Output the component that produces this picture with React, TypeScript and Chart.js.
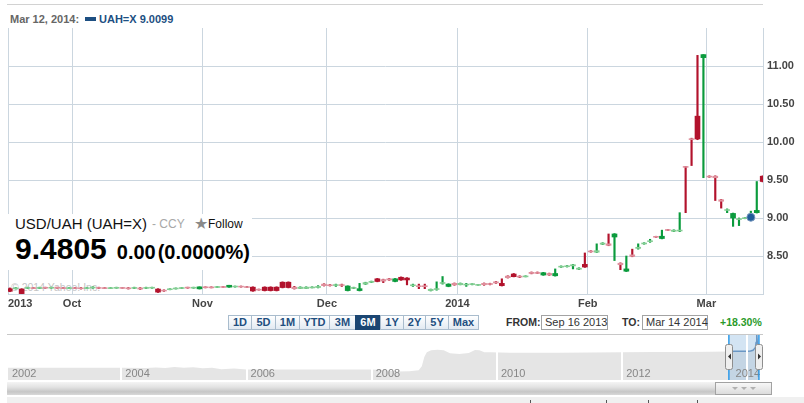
import React, { useEffect, useRef } from 'react';
import { Chart, registerables } from 'chart.js';

Chart.register(...registerables);

const FONT = '"Liberation Sans", Arial, Helvetica, sans-serif';

// ---------- main series: one candle per trading session, Sep 16 2013 - Mar 14 2014
const sessionsPerMonth = [11, 22, 21, 22, 22, 20, 10];
const monthTickLabels = ['2013', 'Oct', 'Nov', 'Dec', '2014', 'Feb', 'Mar'];

const opens = [
  8.07, 8.07, 8.065, 8.075, 8.08, 8.075, 8.085, 8.08, 8.085, 8.08,
  8.075, 8.08, 8.08, 8.075, 8.08, 8.085, 8.08, 8.075, 8.078, 8.082,
  8.08, 8.075, 8.08, 8.075, 8.078, 8.065, 8.05, 8.06, 8.07, 8.075,
  8.088, 8.08, 8.068, 8.092, 8.09, 8.088, 8.095, 8.09, 8.095, 8.1,
  8.095, 8.09, 8.06, 8.09, 8.09, 8.09, 8.155, 8.155, 8.09, 8.072,
  8.072, 8.082, 8.085, 8.13, 8.12, 8.115, 8.12, 8.045, 8.075, 8.045,
  8.13, 8.155, 8.2, 8.19, 8.2, 8.165, 8.22, 8.21, 8.11, 8.105,
  8.105, 8.045, 8.06, 8.14, 8.1, 8.14, 8.122, 8.12, 8.128, 8.118,
  8.14, 8.138, 8.16, 8.14, 8.235, 8.263, 8.235, 8.228, 8.285, 8.28,
  8.25, 8.27, 8.24, 8.355, 8.36, 8.37, 8.325, 8.39, 8.565, 8.55,
  8.655, 8.66, 8.75, 8.405, 8.3, 8.515, 8.6, 8.66, 8.69, 8.755,
  8.73, 8.845, 8.825, 8.83, 9.675, 10.04, 10.34, 11.11, 9.55, 9.55,
  9.24, 9.1, 9.0, 8.98, 8.995, 9.0, 9.07, 9.55,
];
const highs = [
  8.08, 8.085, 8.07, 8.09, 8.085, 8.09, 8.09, 8.09, 8.09, 8.085,
  8.085, 8.085, 8.085, 8.085, 8.095, 8.09, 8.085, 8.085, 8.09, 8.085,
  8.085, 8.09, 8.085, 8.09, 8.09, 8.07, 8.055, 8.07, 8.08, 8.085,
  8.09, 8.09, 8.095, 8.095, 8.095, 8.1, 8.1, 8.115, 8.105, 8.105,
  8.1, 8.095, 8.065, 8.095, 8.095, 8.095, 8.16, 8.16, 8.1, 8.095,
  8.095, 8.095, 8.11, 8.135, 8.125, 8.13, 8.13, 8.108, 8.09, 8.14,
  8.155, 8.17, 8.205, 8.195, 8.205, 8.205, 8.225, 8.215, 8.13, 8.13,
  8.13, 8.065, 8.16, 8.23, 8.135, 8.145, 8.145, 8.14, 8.135, 8.125,
  8.145, 8.142, 8.165, 8.2, 8.24, 8.27, 8.24, 8.24, 8.29, 8.29,
  8.285, 8.275, 8.33, 8.37, 8.375, 8.39, 8.345, 8.54, 8.57, 8.66,
  8.675, 8.79, 8.795, 8.41, 8.5, 8.59, 8.66, 8.675, 8.72, 8.76,
  8.84, 8.85, 8.845, 9.07, 9.68, 10.05, 11.14, 11.15, 9.555, 9.555,
  9.245, 9.12, 9.065, 9.0, 9.005, 9.09, 9.48, 9.555,
];
const lows = [
  8.03, 8.065, 8.0, 8.07, 8.07, 8.07, 8.075, 8.075, 8.075, 8.07,
  8.07, 8.07, 8.065, 8.07, 8.075, 8.07, 8.07, 8.07, 8.075, 8.075,
  8.065, 8.07, 8.06, 8.07, 8.075, 8.02, 8.035, 8.055, 8.065, 8.07,
  8.075, 8.075, 8.065, 8.08, 8.08, 8.085, 8.088, 8.088, 8.09, 8.09,
  8.085, 8.035, 8.05, 8.04, 8.04, 8.04, 8.08, 8.08, 8.065, 8.07,
  8.07, 8.08, 8.08, 8.105, 8.105, 8.1, 8.1, 8.04, 8.07, 8.04,
  8.125, 8.15, 8.16, 8.15, 8.18, 8.16, 8.18, 8.12, 8.1, 8.07,
  8.07, 8.04, 8.05, 8.13, 8.095, 8.115, 8.12, 8.1, 8.12, 8.115,
  8.115, 8.12, 8.14, 8.105, 8.21, 8.225, 8.215, 8.225, 8.265, 8.27,
  8.245, 8.245, 8.235, 8.35, 8.355, 8.33, 8.32, 8.35, 8.55, 8.545,
  8.65, 8.635, 8.44, 8.32, 8.295, 8.49, 8.59, 8.655, 8.68, 8.745,
  8.725, 8.835, 8.82, 8.82, 9.07, 9.69, 10.03, 9.53, 9.535, 9.23,
  9.13, 9.07, 8.89, 8.9, 8.99, 8.99, 9.065, 9.475,
];
const closes = [
  8.035, 8.08, 8.005, 8.085, 8.075, 8.085, 8.08, 8.085, 8.08, 8.075,
  8.08, 8.075, 8.07, 8.08, 8.09, 8.075, 8.075, 8.08, 8.085, 8.078,
  8.07, 8.085, 8.065, 8.085, 8.088, 8.025, 8.04, 8.065, 8.075, 8.082,
  8.08, 8.086, 8.094, 8.085, 8.084, 8.096, 8.09, 8.115, 8.102, 8.095,
  8.088, 8.04, 8.055, 8.045, 8.045, 8.045, 8.085, 8.085, 8.07, 8.09,
  8.09, 8.09, 8.1, 8.11, 8.11, 8.12, 8.115, 8.105, 8.085, 8.07,
  8.15, 8.165, 8.165, 8.17, 8.185, 8.2, 8.185, 8.185, 8.12, 8.1,
  8.1, 8.062, 8.07, 8.15, 8.13, 8.12, 8.14, 8.128, 8.132, 8.122,
  8.122, 8.125, 8.145, 8.11, 8.215, 8.228, 8.222, 8.235, 8.27, 8.275,
  8.28, 8.25, 8.27, 8.365, 8.37, 8.385, 8.34, 8.355, 8.555, 8.57,
  8.67, 8.64, 8.79, 8.385, 8.33, 8.495, 8.615, 8.67, 8.7, 8.75,
  8.76, 8.84, 8.84, 8.84, 9.67, 10.035, 10.04, 11.15, 9.54, 9.53,
  9.22, 9.11, 9.06, 8.99, 9.0, 9.0099, 9.1, 9.4805,
];

const markerSession = 125; // Mar 12, 2014
const markerValue = 9.0099;

const yMin = 8;
const yMax = 11.5;
const yStep = 0.5;

// ---------- navigator (whole history)
const navYears = [
  2002.19, 2002.6, 2003.0, 2003.5, 2004.0, 2004.4, 2004.55, 2004.7, 2004.85, 2005.0,
  2005.15, 2005.3, 2005.45, 2005.6, 2005.8, 2006.0, 2006.5, 2007.0, 2007.5, 2008.0,
  2008.2, 2008.4, 2008.6, 2008.75, 2008.8, 2008.84, 2008.88, 2008.95, 2009.05, 2009.15,
  2009.25, 2009.4, 2009.55, 2009.65, 2009.72, 2009.8, 2009.9, 2010.2, 2010.6, 2011.0,
  2011.5, 2012.0, 2012.5, 2013.0, 2013.4, 2013.705, 2013.8, 2013.9, 2014.0, 2014.05,
  2014.09, 2014.11, 2014.13, 2014.14, 2014.15, 2014.16, 2014.175, 2014.19,
];
const navRates = [
  5.33, 5.33, 5.33, 5.33, 5.32, 5.31, 5.4, 5.3, 5.45, 5.32,
  5.42, 5.25, 5.35, 5.1, 5.2, 5.05, 5.05, 5.05, 5.05, 5.05,
  4.95, 4.7, 4.75, 4.9, 5.6, 7.2, 8.0, 8.35, 8.45, 8.35,
  7.85, 7.7, 7.9, 8.4, 8.35, 8.0, 8.0, 7.95, 7.92, 7.95,
  7.98, 8.0, 8.05, 8.08, 8.12, 8.15, 8.17, 8.2, 8.2, 8.25,
  8.35, 8.6, 8.85, 9.7, 11.1, 9.55, 9.05, 9.48,
];
const navBandYears = [2002, 2004, 2006, 2008, 2010, 2012, 2014];
const selectionFrom = 2013.705;
const selectionTo = 2014.185;

const rangeButtons = ['1D', '5D', '1M', 'YTD', '3M', '6M', '1Y', '2Y', '5Y', 'Max'];
const activeRange = '6M';

const GRID = '#cbd6df';
const RED = '#b2122c';
const GREEN = '#0b9b3d';
const PALE_RED = '#df8f9c';
const PALE_GREEN = '#84ce93';

export default function App() {
  const mainRef = useRef<HTMLCanvasElement>(null);
  const navRef = useRef<HTMLCanvasElement>(null);

  useEffect(() => {
    const idx = opens.map((_, i) => i);
    const up = (i: number) => closes[i] >= opens[i];
    const pale = (i: number) => Math.abs(closes[i] - opens[i]) < 0.0245;
    const bodyColors = idx.map((i) => (up(i) ? (pale(i) ? PALE_GREEN : GREEN) : pale(i) ? PALE_RED : RED));
    const wickColors = idx.map((i) => (up(i) ? GREEN : RED));
    const minBody = 0.012;
    const bodies = idx.map((i) => {
      let lo = Math.min(opens[i], closes[i]);
      let hi = Math.max(opens[i], closes[i]);
      if (hi - lo < minBody) {
        const m = (hi + lo) / 2;
        lo = m - minBody / 2;
        hi = m + minBody / 2;
      }
      return { x: i, y: [lo, hi] };
    });
    const wicks = idx.map((i) => ({ x: i, y: [lows[i], highs[i]] }));

    const xMin = -0.3;
    const xMax = opens.length - 1 + 0.05;
    const boundaries: number[] = [];
    let cum = 0;
    for (let m = 0; m < sessionsPerMonth.length - 1; m++) {
      cum += sessionsPerMonth[m];
      boundaries.push(cum - 0.5);
    }
    const xTickValues = [xMin, ...boundaries, xMax];
    const xTickText = [...monthTickLabels, ''];

    const main = new Chart(mainRef.current as HTMLCanvasElement, {
      type: 'bar',
      data: {
        datasets: [
          {
            type: 'line',
            data: [{ x: markerSession, y: markerValue }],
            showLine: false,
            pointRadius: 4,
            pointBackgroundColor: '#1f5c99',
            pointBorderColor: '#7897bd',
            pointBorderWidth: 1,
            clip: 0,
          } as any,
          {
            type: 'bar',
            data: bodies,
            backgroundColor: bodyColors,
            barThickness: 5,
            grouped: false,
            borderWidth: 0,
            clip: 0,
          } as any,
          {
            type: 'bar',
            data: wicks,
            backgroundColor: wickColors,
            barThickness: 1.5,
            grouped: false,
            borderWidth: 0,
            clip: 0,
          } as any,
        ],
      },
      options: {
        responsive: false,
        animation: false,
        devicePixelRatio: 1,
        layout: { padding: { left: 8, top: 28, right: 0, bottom: 0 } },
        plugins: { legend: { display: false }, tooltip: { enabled: false } },
        scales: {
          x: {
            type: 'linear',
            min: xMin,
            max: xMax,
            offset: false,
            grid: { offset: false, color: GRID, drawTicks: false, lineWidth: 1 },
            border: { color: GRID },
            afterBuildTicks: (s: any) => {
              s.ticks = xTickValues.map((v) => ({ value: v }));
            },
            afterFit: (s: any) => {
              s.height = 26;
            },
            ticks: {
              autoSkip: false,
              maxRotation: 0,
              align: 'inner',
              padding: 3,
              color: '#444',
              font: { family: FONT, size: 11, weight: 'bold' },
              callback: (_v: any, i: number) => xTickText[i],
            },
          } as any,
          y: {
            type: 'linear',
            position: 'right',
            min: yMin,
            max: yMax,
            beginAtZero: false,
            grid: {
              color: (c: any) => (c.tick && c.tick.value >= yMax ? 'rgba(0,0,0,0)' : GRID),
              drawTicks: false,
            },
            border: { color: GRID },
            afterFit: (s: any) => {
              s.width = 41;
            },
            ticks: {
              stepSize: yStep,
              padding: 4,
              color: '#444',
              font: { family: FONT, size: 11, weight: 'bold' },
              callback: (v: any) => (v <= yMin || v >= yMax ? '' : Number(v).toFixed(2)),
            },
          } as any,
        },
      },
    });

    const navPts = navYears.map((x, i) => ({ x, y: navRates[i] }));
    const selPts = navPts.filter((p) => p.x >= selectionFrom - 1e-9);
    const navMin = 2002.19;
    const navMax = 2014.25;

    const navPlugin = {
      id: 'navDecor',
      afterDatasetsDraw(chart: any) {
        const { ctx, chartArea } = chart;
        const x = chart.scales.x;
        const x1 = x.getPixelForValue(selectionFrom);
        const x2 = x.getPixelForValue(selectionTo);
        ctx.save();
        ctx.fillStyle = 'rgba(150,190,226,0.42)';
        ctx.fillRect(x1, chartArea.top, x2 - x1, chartArea.bottom - chartArea.top);
        ctx.restore();
      },
      afterDraw(chart: any) {
        const { ctx, chartArea } = chart;
        const x = chart.scales.x;
        ctx.save();
        ctx.font = `11px ${FONT}`;
        ctx.fillStyle = '#868686';
        ctx.textBaseline = 'alphabetic';
        navBandYears.forEach((yr) => {
          const label = String(yr);
          const w = ctx.measureText(label).width;
          let px = x.getPixelForValue(yr) + 4;
          px = Math.max(chartArea.left + 4, Math.min(px, chartArea.right - w - 3));
          ctx.fillText(label, px, chartArea.bottom - 3);
        });
        const x1 = x.getPixelForValue(selectionFrom);
        const x2 = x.getPixelForValue(selectionTo);
        ctx.strokeStyle = '#2f9ae8';
        ctx.lineWidth = 1.5;
        [x1, x2].forEach((px) => {
          ctx.beginPath();
          ctx.moveTo(px, chartArea.top);
          ctx.lineTo(px, chartArea.bottom);
          ctx.stroke();
        });
        const hy = chartArea.top + 9;
        const hh = 25;
        [x1, x2].forEach((px, k) => {
          ctx.fillStyle = '#efefef';
          ctx.strokeStyle = '#8e8e8e';
          ctx.lineWidth = 1;
          ctx.beginPath();
          (ctx as any).roundRect(Math.round(px - 3.5) + 0.5, hy + 0.5, 7, hh, 2);
          ctx.fill();
          ctx.stroke();
          ctx.fillStyle = '#333';
          ctx.beginPath();
          const cy = hy + hh / 2;
          const cx = Math.round(px) + 0.5;
          if (k === 0) {
            ctx.moveTo(cx + 1.5, cy - 3);
            ctx.lineTo(cx + 1.5, cy + 3);
            ctx.lineTo(cx - 1.5, cy);
          } else {
            ctx.moveTo(cx - 1.5, cy - 3);
            ctx.lineTo(cx - 1.5, cy + 3);
            ctx.lineTo(cx + 1.5, cy);
          }
          ctx.closePath();
          ctx.fill();
        });
        ctx.restore();
      },
    };

    const nav = new Chart(navRef.current as HTMLCanvasElement, {
      type: 'line',
      data: {
        datasets: [
          {
            data: selPts,
            borderColor: '#4a7aae',
            borderWidth: 1.5,
            pointRadius: 0,
            fill: false,
            tension: 0,
            clip: 0,
          } as any,
          {
            data: navPts,
            borderWidth: 0,
            borderColor: 'rgba(0,0,0,0)',
            backgroundColor: '#e5e5e5',
            fill: 'start',
            pointRadius: 0,
            tension: 0,
            clip: 0,
          } as any,
        ],
      },
      options: {
        responsive: false,
        animation: false,
        devicePixelRatio: 1,
        layout: { padding: { left: 8, right: 41, top: 0, bottom: 1 } },
        plugins: { legend: { display: false }, tooltip: { enabled: false } },
        scales: {
          x: {
            type: 'linear',
            min: navMin,
            max: navMax,
            grid: { color: '#ffffff', lineWidth: 2, drawTicks: false, z: 1 },
            border: { display: false },
            ticks: { display: false },
            afterBuildTicks: (s: any) => {
              s.ticks = navBandYears.filter((v) => v > navMin && v < navMax).map((v) => ({ value: v }));
            },
            afterFit: (s: any) => {
              s.height = 0;
            },
          } as any,
          y: { type: 'linear', display: false, min: 3.22, max: 11.0 } as any,
        },
      },
      plugins: [navPlugin],
    });

    return () => {
      main.destroy();
      nav.destroy();
    };
  }, []);

  const btnW = [24, 25, 25, 31, 27, 26, 24, 23, 24, 31];
  const abs = (s: React.CSSProperties): React.CSSProperties => ({ position: 'absolute', whiteSpace: 'nowrap', ...s });

  return (
    <div
      style={{
        position: 'absolute',
        left: 0,
        top: 0,
        width: 804,
        height: 403,
        overflow: 'hidden',
        background: '#fff',
        fontFamily: FONT,
      }}
    >
      {/* header */}
      <div style={abs({ left: 7, top: 4, width: 756, height: 1, background: '#d2d2d2' })} />
      <div style={abs({ left: 10, top: 13, fontSize: 11, fontWeight: 'bold', color: '#666', lineHeight: '12px' })}>
        Mar 12, 2014:
      </div>
      <div style={abs({ left: 85, top: 17, width: 11, height: 4, background: '#1d4f82' })} />
      <div style={abs({ left: 99, top: 13, fontSize: 11, fontWeight: 'bold', color: '#1d4f82', lineHeight: '12px' })}>
        UAH=X 9.0099
      </div>

      {/* copyright under the candles */}
      <div style={abs({ left: 11, top: 281, fontSize: 10.5, color: '#c4c4c4', lineHeight: '12px', zIndex: 0 })}>
        © 2014 Yahoo! Inc.
      </div>

      <canvas
        ref={mainRef}
        width={804}
        height={320}
        style={{ position: 'absolute', left: 0, top: 0, width: 804, height: 320, zIndex: 1 }}
      />

      {/* quote box */}
      <div style={abs({ left: 8, top: 214, width: 244, height: 56, background: '#fff', zIndex: 2 })}>
        <div style={abs({ left: 7, top: 2, fontSize: 15, lineHeight: '15px', color: '#111' })}>USD/UAH (UAH=X)</div>
        <div style={abs({ left: 144, top: 4, fontSize: 12, lineHeight: '13px', color: '#a8a8a8' })}>- CCY</div>
        <div style={abs({ left: 186, top: 1, fontSize: 16, lineHeight: '17px', color: '#8a8a8a' })}>★</div>
        <div style={abs({ left: 200, top: 4, fontSize: 12, lineHeight: '13px', color: '#111' })}>Follow</div>
        <div
          style={abs({
            left: 7,
            top: 20,
            display: 'flex',
            alignItems: 'baseline',
            fontWeight: 'bold',
            color: '#000',
            lineHeight: 1,
          })}
        >
          <span style={{ fontSize: 30 }}>9.4805</span>
          <span style={{ fontSize: 20, marginLeft: 10 }}>0.00</span>
          <span style={{ fontSize: 20, marginLeft: 2 }}>(0.0000%)</span>
        </div>
      </div>

      {/* range buttons */}
      <div style={abs({ left: 228, top: 315, display: 'flex', height: 15 })}>
        {rangeButtons.map((b, i) => {
          const on = b === activeRange;
          return (
            <div
              key={b}
              style={{
                width: btnW[i],
                height: 15,
                boxSizing: 'border-box',
                marginLeft: i === 0 ? 0 : -1,
                border: `1px solid ${on ? '#1b4672' : '#a9bccd'}`,
                background: on ? '#1b4672' : 'linear-gradient(#ffffff, #e2eaf2)',
                color: on ? '#fff' : '#1f4f80',
                fontSize: 11,
                fontWeight: 'bold',
                lineHeight: '13px',
                textAlign: 'center',
              }}
            >
              {b}
            </div>
          );
        })}
      </div>

      <div style={abs({ left: 506, top: 316, fontSize: 10.5, fontWeight: 'bold', color: '#333', lineHeight: '13px' })}>FROM:</div>
      <div
        style={abs({
          left: 541,
          top: 315,
          width: 67,
          height: 15,
          boxSizing: 'border-box',
          border: '1px solid #a3a3a3',
          fontSize: 11,
          lineHeight: '13px',
          paddingLeft: 3,
          color: '#333',
        })}
      >
        Sep 16 2013
      </div>
      <div style={abs({ left: 622, top: 316, fontSize: 10.5, fontWeight: 'bold', color: '#333', lineHeight: '13px' })}>TO:</div>
      <div
        style={abs({
          left: 642,
          top: 315,
          width: 66,
          height: 15,
          boxSizing: 'border-box',
          border: '1px solid #a3a3a3',
          fontSize: 11,
          lineHeight: '13px',
          paddingLeft: 3,
          color: '#333',
        })}
      >
        Mar 14 2014
      </div>
      <div style={abs({ left: 720, top: 316, fontSize: 10.5, fontWeight: 'bold', color: '#2a9a2a', lineHeight: '13px' })}>
        +18.30%
      </div>

      {/* navigator */}
      <div style={abs({ left: 7, top: 334, width: 756, height: 1, background: '#c8c8c8' })} />
      <canvas
        ref={navRef}
        width={804}
        height={46}
        style={{ position: 'absolute', left: 0, top: 335, width: 804, height: 46 }}
      />

      {/* scrollbar */}
      <div
        style={abs({
          left: 7,
          top: 382,
          width: 765,
          height: 13,
          background: 'linear-gradient(to bottom, #f4f4f4 0%, #e2e2e2 40%, #c6c6c6 75%, #d8d8d8 100%)',
        })}
      />
      <div
        style={abs({
          left: 715,
          top: 382,
          width: 57,
          height: 13,
          boxSizing: 'border-box',
          border: '1px solid #a2a2a2',
          background: 'linear-gradient(#f7f7f7, #dcdcdc)',
          display: 'flex',
          justifyContent: 'center',
          alignItems: 'center',
          gap: 3,
        })}
      >
        {[0, 1, 2].map((k) => (
          <div
            key={k}
            style={{
              width: 0,
              height: 0,
              borderLeft: '3px solid transparent',
              borderRight: '3px solid transparent',
              borderTop: '3px solid #b0b0b0',
            }}
          />
        ))}
      </div>

      {/* bottom strip */}
      <div style={abs({ left: 7, top: 397, width: 797, height: 6, background: '#f0f0f0' })} />
      {[530, 606, 648, 697].map((x) => (
        <div key={x} style={abs({ left: x, top: 400, width: 1, height: 3, background: '#555' })} />
      ))}
    </div>
  );
}
